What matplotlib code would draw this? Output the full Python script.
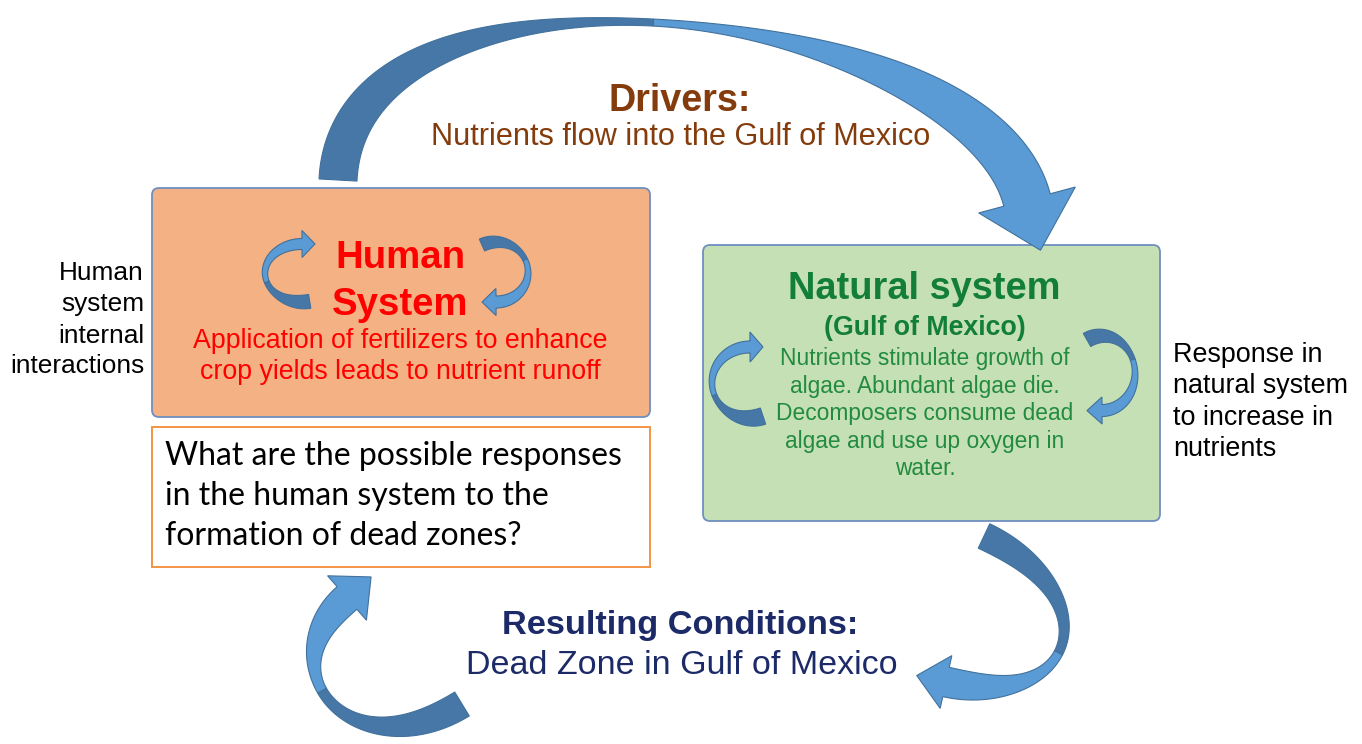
import numpy as np
import matplotlib
matplotlib.use("Agg")
import matplotlib.pyplot as plt
from matplotlib.patches import FancyBboxPatch, Polygon
from matplotlib import font_manager

# ---------------- content ----------------
drivers_title = "Drivers:"
drivers_sub = "Nutrients flow into the Gulf of Mexico"
human_title = ["Human", "System"]
human_body = ["Application of fertilizers to enhance",
              "crop yields leads to nutrient runoff"]
human_side = ["Human", "system", "internal", "interactions"]
question = ["What are the possible responses",
            "in the human system to the",
            "formation of dead zones?"]
natural_title = "Natural system"
natural_sub = "(Gulf of Mexico)"
natural_body = ["Nutrients stimulate growth of",
                "algae. Abundant algae die.",
                "Decomposers consume dead",
                "algae and use up oxygen in",
                "water."]
natural_side = ["Response in", "natural system", "to increase in", "nutrients"]
result_title = "Resulting Conditions:"
result_sub = "Dead Zone in Gulf of Mexico"

# ---------------- colours ----------------
ORANGE_FILL = "#F4B183"
GREEN_FILL = "#C5E0B4"
BOX_EDGE = "#6F8FBF"
Q_EDGE = "#F29445"
ARROW_LIGHT = "#5B9BD5"
ARROW_DARK = "#4677A6"
ARROW_EDGE = "#41719C"
BROWN = "#843C0C"
RED = "#FF0000"
GREEN_T = "#137F36"
GREEN_B = "#238B3F"
NAVY = "#1C2A68"


def has_font(name):
    try:
        font_manager.findfont(font_manager.FontProperties(family=name),
                              fallback_to_default=False)
        return True
    except Exception:
        return False


NARROW = "Liberation Sans Narrow" if has_font("Liberation Sans Narrow") else "Liberation Sans"
SANS = "Liberation Sans"
QFONT = "Lato" if has_font("Lato") else "Open Sans"

W, H = 1362, 744
fig = plt.figure(figsize=(W / 100, H / 100), dpi=100)
ax = fig.add_axes([0, 0, 1, 1])
ax.set_xlim(0, W)
ax.set_ylim(H, 0)
ax.axis("off")
renderer = fig.canvas.get_renderer()

# ---------------- boxes ----------------
ax.add_patch(FancyBboxPatch((152, 188), 498, 229, boxstyle="round,pad=0,rounding_size=7",
                            fc=ORANGE_FILL, ec=BOX_EDGE, lw=1.3, zorder=1))
ax.add_patch(FancyBboxPatch((152, 427), 498, 140, boxstyle="square,pad=0",
                            fc="white", ec=Q_EDGE, lw=1.4, zorder=1))
ax.add_patch(FancyBboxPatch((703, 245), 457, 276, boxstyle="round,pad=0,rounding_size=7",
                            fc=GREEN_FILL, ec=BOX_EDGE, lw=1.3, zorder=1))


# ---------------- arrows ----------------
def bezier(P, n=300):
    P = np.array(P, float)
    t = np.linspace(0, 1, n)[:, None]
    return ((1 - t) ** 3 * P[0] + 3 * (1 - t) ** 2 * t * P[1]
            + 3 * (1 - t) * t ** 2 * P[2] + t ** 3 * P[3])


def ellipse(c, r, a0, a1, n=300):
    th = np.radians(np.linspace(a0, a1, n))
    return np.c_[c[0] + r[0] * np.cos(th), c[1] + r[1] * np.sin(th)]


def curved_arrow(pts, w0, wmid, w1, tmid, head_w, head_len, z=3):
    seg = np.linalg.norm(np.diff(pts, axis=0), axis=1)
    s = np.r_[0, np.cumsum(seg)]
    t = s / s[-1]
    d = np.gradient(pts, axis=0)
    d /= np.linalg.norm(d, axis=1)[:, None]
    nrm = np.c_[-d[:, 1], d[:, 0]]
    u = np.clip((t - tmid) / (1 - tmid), 0, 1)
    w = np.where(t < tmid,
                 w0 + (wmid - w0) * (1 - np.cos(np.pi * t / tmid)) / 2,
                 wmid + (w1 - wmid) * (1 - np.cos(np.pi * u)) / 2)
    L = pts + nrm * w[:, None] / 2
    R = pts - nrm * w[:, None] / 2
    k = int(np.searchsorted(t, tmid))
    dark = np.vstack([L[:k + 1], R[:k + 1][::-1]])
    end, dv, nv = pts[-1], d[-1], nrm[-1]
    head = np.array([end + nv * head_w / 2, end + dv * head_len, end - nv * head_w / 2])
    light = np.vstack([L[k:], head, R[k:][::-1]])
    ax.add_patch(Polygon(dark, closed=True, fc=ARROW_DARK, ec=ARROW_EDGE, lw=0.8,
                         joinstyle="miter", zorder=z))
    ax.add_patch(Polygon(light, closed=True, fc=ARROW_LIGHT, ec=ARROW_EDGE, lw=0.8,
                         joinstyle="miter", zorder=z + 0.1))


# big top arrow (drivers)
curved_arrow(bezier([(338, 180), (350, -70), (977, 6), (1027, 200)]),
             38, 7, 48, 0.47, 100, 52)
# bottom right arrow (resulting conditions)
curved_arrow(bezier([(984, 536), (1110, 595), (1080, 712), (946, 682)]),
             27, 9, 30, 0.55, 54, 30)
# bottom left arrow (back to human system)
curved_arrow(bezier([(462, 704), (351, 772), (264, 670), (347, 598)]),
             28, 10, 30, 0.6, 59, 32)
# human system internal arrows
curved_arrow(ellipse((302, 273), (37, 29), 78, 270), 14, 5, 11, 0.45, 27, 13, z=4)
curved_arrow(ellipse((496, 272), (32, 30), -116, 90), 13, 5, 12, 0.45, 27, 14, z=4)
# natural system internal arrows
curved_arrow(ellipse((750, 382.6), (38, 35.6), 70, 270), 17, 5, 12, 0.45, 30, 13, z=4)
curved_arrow(ellipse((1102, 373.2), (33, 37.3), -117, 90), 15, 5, 12, 0.45, 27, 15, z=4)


# ---------------- text ----------------
def fit_size(s, family, weight, target, guess=20):
    t = ax.text(0, 0, s, fontsize=guess, family=family, weight=weight)
    wpx = t.get_window_extent(renderer).width
    t.remove()
    return guess * target / wpx


def put(s, x, y, size, color, family=SANS, weight="normal", ha="center"):
    ax.text(x, y, s, fontsize=size, color=color, family=family, weight=weight,
            ha=ha, va="baseline", zorder=6)


fs = fit_size(drivers_title, NARROW, "bold", 142)
put(drivers_title, 680, 111, fs, BROWN, NARROW, "bold")
fs = fit_size(drivers_sub, NARROW, "normal", 498)
put(drivers_sub, 681, 145, fs, BROWN, NARROW)

fs = fit_size(human_title[0], SANS, "bold", 130)
for s, y in zip(human_title, [268, 315]):
    put(s, 400, y, fs, RED, weight="bold")
fs = fit_size(human_body[0], SANS, "normal", 415)
for s, y in zip(human_body, [348, 379]):
    put(s, 400, y, fs, RED)

fs = fit_size(human_side[3], SANS, "normal", 134)
for s, y in zip(human_side, [280, 311.5, 343, 373]):
    put(s, 144, y, fs, "black", ha="right")

fs = fit_size(question[0], QFONT, "normal", 458)
for s, y in zip(question, [465, 505, 545]):
    put(s, 165, y, fs, "black", family=QFONT, ha="left")

fs = fit_size(natural_title, SANS, "bold", 272)
put(natural_title, 924, 299, fs, GREEN_T, weight="bold")
fs = fit_size(natural_sub, SANS, "bold", 202)
put(natural_sub, 925, 335, fs, GREEN_T, weight="bold")
fs = fit_size(natural_body[2], SANS, "normal", 295)
for s, y in zip(natural_body, [365, 392.7, 420, 448.3, 475]):
    put(s, 925, y, fs, GREEN_B)

fs = fit_size(natural_side[1], SANS, "normal", 174)
for s, y in zip(natural_side, [361.7, 393.3, 425, 456]):
    put(s, 1173, y, fs, "black", ha="left")

fs = fit_size(result_title, SANS, "bold", 357)
put(result_title, 680, 634, fs, NAVY, weight="bold")
fs = fit_size(result_sub, SANS, "normal", 430)
put(result_sub, 681.5, 674, fs, NAVY)

fig.savefig("out.png", dpi=100, facecolor="white")
